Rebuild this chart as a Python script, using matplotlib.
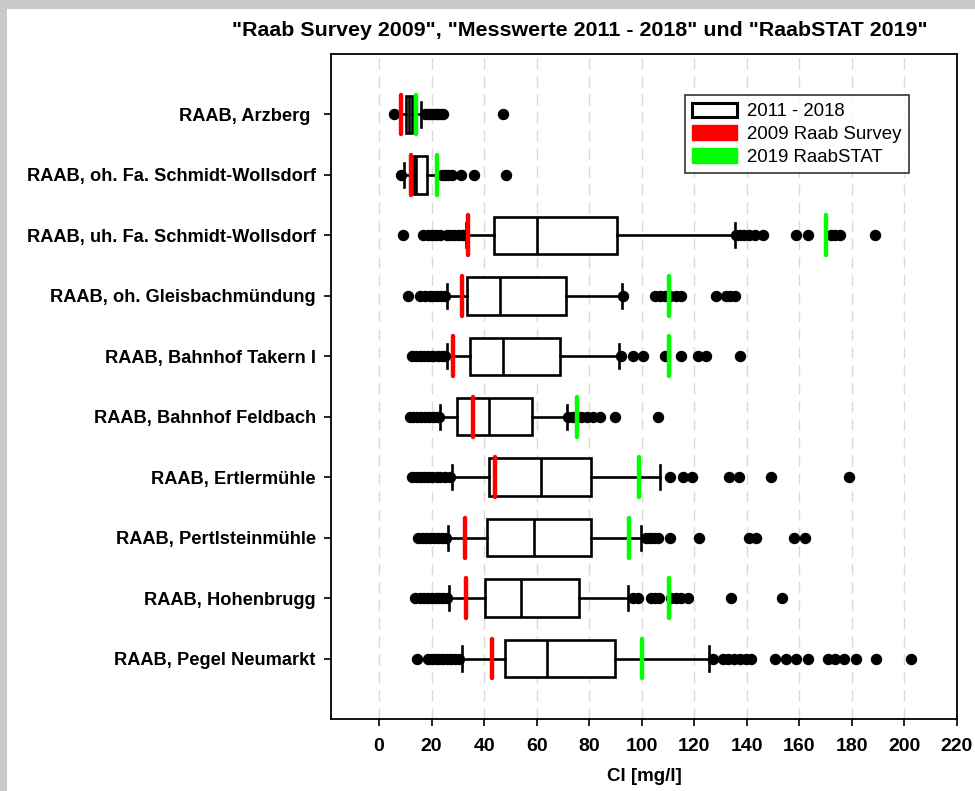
import matplotlib
matplotlib.use("Agg")
import matplotlib.pyplot as plt
from matplotlib.patches import Patch, Rectangle

plt.rcParams['font.family'] = ['Liberation Sans', 'DejaVu Sans']

categories = ["RAAB, Arzberg ", "RAAB, oh. Fa. Schmidt-Wollsdorf",
              "RAAB, uh. Fa. Schmidt-Wollsdorf", "RAAB, oh. Gleisbachmündung",
              "RAAB, Bahnhof Takern I", "RAAB, Bahnhof Feldbach",
              "RAAB, Ertlermühle", "RAAB, Pertlsteinmühle",
              "RAAB, Hohenbrugg", "RAAB, Pegel Neumarkt"]

whislo = [8.0, 9.5, 33.0, 25.7, 25.7, 23.2, 27.6, 26.1, 26.6, 31.4]
q1 = [10.4, 13.3, 43.9, 33.3, 34.6, 29.8, 41.7, 41.2, 40.3, 47.9]
med = [11.5, 14.2, 60.2, 46.0, 47.0, 41.9, 61.5, 59.0, 54.0, 63.9]
q3 = [12.5, 18.3, 90.6, 71.0, 69.0, 58.1, 80.7, 80.7, 76.2, 90.0]
whishi = [16.0, 21.8, 135.6, 92.5, 91.4, 71.4, 107.0, 99.8, 94.7, 125.5]

outliers = [
    [5.8, 17.5, 18.5, 19.5, 20.5, 21.5, 22.5, 23.5, 24.3, 47.3],
    [8.2, 23.8, 25.0, 26.2, 27.6, 31.2, 36.2, 48.5],
    [9.2, 16.8, 18.5, 20.0, 21.5, 23.2, 25.7, 27.0, 28.5, 30.0, 31.5, 32.0,
     136.0, 137.5, 139.0, 141.0, 143.0, 146.0, 158.8, 163.3, 172.0, 173.5, 175.3, 188.6],
    [11.2, 15.6, 17.5, 19.4, 20.5, 22.0, 23.5, 25.0,
     93.0, 105.0, 107.0, 109.0, 110.6, 113.0, 115.0, 128.4, 132.2, 133.5, 135.4],
    [12.4, 14.0, 15.5, 17.0, 18.5, 20.0, 20.7, 22.4, 24.0, 25.2,
     92.0, 96.5, 100.5, 108.7, 115.0, 121.4, 124.6, 137.3],
    [11.8, 13.0, 14.5, 16.0, 17.5, 19.0, 20.5, 22.0, 23.0,
     72.0, 74.0, 77.0, 79.0, 81.4, 84.0, 90.0, 106.2],
    [12.4, 14.0, 15.5, 17.0, 18.5, 20.0, 21.9, 23.2, 25.0, 27.0,
     110.8, 115.6, 119.2, 133.1, 137.2, 149.2, 179.0],
    [15.0, 16.5, 18.0, 19.5, 21.0, 22.5, 24.0, 25.5,
     101.6, 103.0, 104.5, 106.1, 110.8, 121.9, 141.0, 143.5, 158.0, 162.2],
    [13.7, 15.5, 17.0, 18.5, 20.0, 21.5, 23.0, 24.5, 26.0,
     96.5, 98.4, 103.5, 105.0, 106.7, 111.2, 113.0, 115.0, 117.5, 134.0, 153.2],
    [14.6, 18.8, 20.0, 21.5, 23.0, 24.5, 26.0, 27.5, 29.0, 30.5,
     127.0, 131.0, 133.0, 135.0, 137.5, 139.5, 141.4, 150.8, 154.9, 158.9, 163.4,
     170.9, 173.5, 177.1, 181.5, 189.2, 202.3],
]

survey_2009 = [8.4, 12.0, 34.0, 31.4, 28.1, 35.9, 44.1, 32.7, 33.0, 43.1]
raabstat_2019 = [14.2, 22.0, 170.2, 110.4, 110.3, 75.4, 98.9, 95.0, 110.2, 100.1]

x_ticks = [0, 20, 40, 60, 80, 100, 120, 140, 160, 180, 200, 220]
title = '"Raab Survey 2009", "Messwerte 2011 - 2018" und "RaabSTAT 2019"'
legend_labels = ["2011 - 2018", "2009 Raab Survey", "2019 RaabSTAT"]

fig = plt.figure(figsize=(9.75, 7.91), dpi=100)
fig.patch.set_facecolor('#c9c9c9')
fig.patches.append(Rectangle((7 / 975, 0), 1 - 7 / 975, 1 - 9 / 791,
                             transform=fig.transFigure, facecolor='white',
                             edgecolor='none', zorder=-10))

ax = fig.add_axes([331 / 975, 1 - 719 / 791, 626 / 975, 665 / 791])
ax.set_zorder(1)
ax.set_facecolor('white')

positions = list(range(1, len(categories) + 1))
stats = []
for i, cat in enumerate(categories):
    stats.append(dict(label=cat, whislo=whislo[i], q1=q1[i], med=med[i],
                      q3=q3[i], whishi=whishi[i], fliers=outliers[i]))

lw = 1.9
ax.bxp(stats, positions=positions, orientation='horizontal', widths=0.62,
       capwidths=0.4, patch_artist=True,
       boxprops=dict(facecolor='white', edgecolor='black', linewidth=lw),
       medianprops=dict(color='black', linewidth=lw),
       whiskerprops=dict(color='black', linewidth=lw),
       capprops=dict(color='black', linewidth=lw),
       flierprops=dict(marker='o', markerfacecolor='black', markeredgecolor='black',
                       markersize=7.2, linestyle='none'),
       zorder=3)

pos = list(positions)
red_lines = ax.vlines(survey_2009, [p - 0.33 for p in pos], [p + 0.33 for p in pos],
                      colors='#ff0000', linewidth=3.2, zorder=5)
green_lines = ax.vlines(raabstat_2019, [p - 0.33 for p in pos], [p + 0.33 for p in pos],
                        colors='#00ff00', linewidth=3.2, zorder=5)
red_lines.set_capstyle('round')
green_lines.set_capstyle('round')

ax.set_xlim(-18.3, 220)
ax.set_ylim(11, 0)
ax.set_xticks(x_ticks)
ax.set_xticklabels([str(t) for t in x_ticks], fontsize=14, fontweight='bold')
ax.set_yticks(positions)
ax.set_yticklabels(categories, fontsize=13.15, fontweight='bold')
ax.tick_params(axis='both', direction='out', length=5, width=1.2, color='black')
ax.tick_params(axis='x', pad=9)
ax.tick_params(axis='y', pad=6)

ax.xaxis.grid(True, linestyle=(0, (8, 5)), color='#dadada', linewidth=1.0, zorder=0)
ax.set_axisbelow(True)
for s in ax.spines.values():
    s.set_linewidth(1.3)
    s.set_color('black')

ax.set_xlabel('Cl [mg/l]', fontsize=13.5, fontweight='bold')
ax.xaxis.set_label_coords(0.5, -0.074)

fig.text(580 / 975, 1 - 30 / 791, title, ha='center', va='center',
         fontsize=15.4, fontweight='bold')

handles = [Patch(facecolor='white', edgecolor='black', linewidth=2.2),
           Patch(facecolor='#ff0000', edgecolor='#ff0000'),
           Patch(facecolor='#00ff00', edgecolor='#00ff00')]
leg = ax.legend(handles, legend_labels, loc='upper left',
                bbox_to_anchor=(0.565, 0.938), borderaxespad=0,
                fontsize=13.4, frameon=True, fancybox=False, edgecolor='black',
                handlelength=2.4, handleheight=0.8, handletextpad=0.55,
                labelspacing=0.28, borderpad=0.4)
leg.get_frame().set_linewidth(1.2)
leg.set_zorder(10)

fig.savefig('out.png', dpi=100, facecolor=fig.get_facecolor())
